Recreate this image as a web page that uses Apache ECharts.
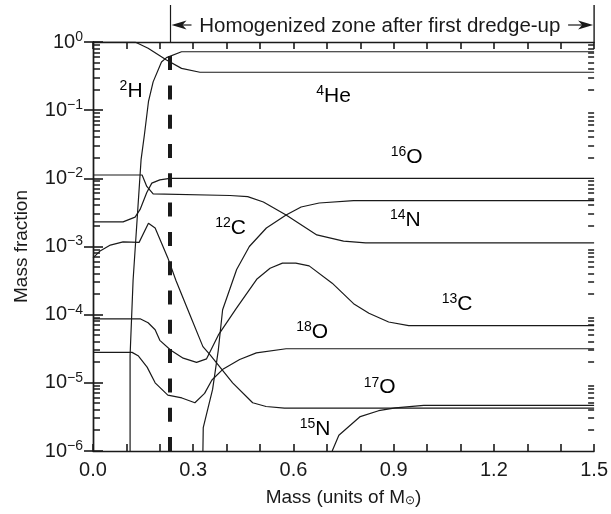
<!DOCTYPE html>
<html>
<head>
<meta charset="utf-8">
<script src="https://cdn.jsdelivr.net/npm/echarts@6/dist/echarts.min.js"></script>
<style>
  html, body { margin: 0; padding: 0; background: #fff; }
  #chart { width: 611px; height: 514px; }
</style>
</head>
<body>
<div id="chart"></div>
<script>
// Abundance profiles: [mass coordinate (M_sun), mass fraction]
const hydrogen = [[0.111, 1e-6], [0.111, 2.5e-5], [0.12, 3.2e-4], [0.144, 1.9e-2], [0.154, 4.4e-2],
  [0.166, 0.133], [0.18, 0.26], [0.205, 0.51], [0.22, 0.59], [0.265, 0.72], [1.5, 0.72]];
const helium4 = [[0, 1.0], [0.126, 1.0], [0.165, 0.81], [0.22, 0.545], [0.265, 0.41], [0.32, 0.36], [1.5, 0.36]];
const oxygen16 = [[0, 0.0023], [0.09, 0.0023], [0.126, 0.0027], [0.141, 0.0035], [0.161, 0.0062],
  [0.176, 0.0085], [0.2, 0.0095], [0.23, 0.01], [1.5, 0.01]];
const nitrogen14 = [[0, 0.0112], [0.147, 0.0112], [0.161, 0.0076], [0.18, 0.0059], [0.41, 0.0056],
  [0.463, 0.0054], [0.51, 0.0045], [0.578, 0.0029], [0.67, 0.00148], [0.75, 0.0012], [0.816, 0.00113], [1.5, 0.00113]];
const carbon12 = [[0.329, 1e-6], [0.33, 2.2e-6], [0.358, 8e-6], [0.375, 3e-5], [0.388, 1.18e-4],
  [0.43, 4.6e-4], [0.468, 1e-3], [0.519, 1.87e-3], [0.578, 2.9e-3], [0.623, 3.8e-3], [0.677, 4.35e-3],
  [0.78, 4.7e-3], [1.5, 4.7e-3]];
const oxygen17 = [[0, 6.8e-4], [0.02, 8.5e-4], [0.052, 1.05e-3], [0.09, 1.17e-3], [0.138, 1.15e-3],
  [0.166, 2.2e-3], [0.186, 1.87e-3], [0.206, 1.1e-3], [0.224, 6.8e-4], [0.248, 3.2e-4], [0.29, 1e-4],
  [0.329, 3.4e-5], [0.35, 2.6e-5], [0.418, 1e-5], [0.478, 5.1e-6], [0.518, 4.5e-6], [0.573, 4.26e-6], [1.5, 4.26e-6]];
const carbon13 = [[0, 8.7e-5], [0.141, 8.7e-5], [0.165, 7.6e-5], [0.186, 6e-5], [0.2, 4.2e-5],
  [0.233, 3e-5], [0.27, 2.3e-5], [0.31, 2e-5], [0.34, 2.25e-5], [0.375, 5e-5], [0.429, 1.24e-4],
  [0.49, 3.3e-4], [0.53, 4.8e-4], [0.567, 5.7e-4], [0.607, 5.7e-4], [0.647, 5.2e-4], [0.716, 2.9e-4],
  [0.78, 1.45e-4], [0.826, 1.05e-4], [0.885, 7.8e-5], [0.945, 6.9e-5], [1.5, 6.9e-5]];
const oxygen18 = [[0, 2.8e-5], [0.117, 2.8e-5], [0.135, 2.5e-5], [0.162, 1.7e-5], [0.186, 1e-5],
  [0.224, 6.6e-6], [0.266, 6e-6], [0.305, 5.1e-6], [0.334, 7e-6], [0.356, 1.1e-5], [0.39, 1.6e-5],
  [0.439, 2.2e-5], [0.489, 2.75e-5], [0.578, 3.16e-5], [1.5, 3.16e-5]];
const nitrogen15 = [[0.716, 1e-6], [0.736, 1.7e-6], [0.8, 3.2e-6], [0.855, 3.9e-6], [0.905, 4.3e-6],
  [0.99, 4.66e-6], [1.5, 4.66e-6]];

// Inner edge of the zone mixed by the first dredge-up
const dredgeUpMass = 0.232;

// Axis ticks
const massTickLabels = [0, 0.3, 0.6, 0.9, 1.2, 1.5];
const fractionMinor = [];
for (let d = -6; d < 0; d++) {
  for (let k = 2; k <= 9; k++) fractionMinor.push(Number((k * Math.pow(10, d)).toPrecision(3)));
}

// Curve labels: [mass number, element, mass, fraction]
const isotopeLabels = [
  ['2', 'H', 0.114, 0.19],
  ['4', 'He', 0.72, 0.16],
  ['16', 'O', 0.939, 0.0205],
  ['12', 'C', 0.412, 1.87e-3],
  ['14', 'N', 0.935, 2.4e-3],
  ['13', 'C', 1.09, 1.44e-4],
  ['18', 'O', 0.656, 5.6e-5],
  ['17', 'O', 0.858, 8.5e-6],
  ['15', 'N', 0.665, 2.1e-6]
];
const zoneTitle = 'Homogenized zone after first dredge-up';

const FONT = '"Liberation Sans", Arial, Helvetica, sans-serif';
const INK = '#1a1a1a';

const chart = echarts.init(document.getElementById('chart'), null, { renderer: 'canvas' });

function supRich(mainSize, supSize, lift) {
  return {
    b: { fontSize: mainSize, lineHeight: mainSize + 2, fontFamily: FONT, color: INK },
    s: { fontSize: supSize, lineHeight: supSize, padding: [0, 0, lift, 0], fontFamily: FONT, color: INK }
  };
}

function logAxis(position, tickLen, showLabels) {
  return {
    type: 'log', logBase: 10, position: position, min: 1e-6, max: 1,
    axisLine: { show: true, lineStyle: { color: INK, width: 1.4 } },
    axisTick: { show: true, inside: true, length: tickLen, lineStyle: { color: INK, width: 1.6 } },
    axisLabel: showLabels ? {
      margin: 10,
      formatter: function (v) {
        const e = Math.round(Math.log10(v));
        return '{b|10}{s|' + (e < 0 ? '\u2212' + (-e) : String(e)) + '}';
      },
      rich: supRich(20, 14, 10)
    } : { show: false },
    splitLine: { show: false }
  };
}

function curve(name, data) {
  return {
    name: name, type: 'line', data: data, xAxisIndex: 0, yAxisIndex: 0,
    symbol: 'none', clip: true, silent: true,
    lineStyle: { color: INK, width: 1.2 }
  };
}

const series = [
  curve('H', hydrogen),
  curve('He4', helium4),
  curve('O16', oxygen16),
  curve('N14', nitrogen14),
  curve('C12', carbon12),
  curve('O17', oxygen17),
  curve('C13', carbon13),
  curve('O18', oxygen18),
  curve('N15', nitrogen15)
];
series[0].markLine = {
  silent: true, symbol: 'none', label: { show: false }, animation: false,
  lineStyle: { color: INK, width: 4, type: [14, 15.3] },
  data: [{ xAxis: dredgeUpMass }]
};

chart.setOption({
  animation: false,
  backgroundColor: '#fff',
  textStyle: { fontFamily: FONT },
  grid: { left: 93, right: 14, top: 42, bottom: 63, containLabel: false },
  xAxis: [
    {
      type: 'value', position: 'bottom', min: 0, max: 1.5, interval: 0.1,
      name: 'Mass (units of M{sub|\u2299})', nameLocation: 'middle', nameGap: 37,
      nameTextStyle: {
        fontSize: 19, fontFamily: FONT, color: INK,
        rich: {
          sub: { fontSize: 12, fontFamily: FONT, color: INK, verticalAlign: 'bottom', padding: [6, 0, 0, 0] }
        }
      },
      axisLine: { onZero: false, lineStyle: { color: INK, width: 1.4 } },
      axisTick: { inside: true, length: 7, lineStyle: { color: INK, width: 1.6 } },
      axisLabel: { customValues: massTickLabels, margin: 9, fontSize: 20, color: INK, fontFamily: FONT,
        formatter: function (v) { return v.toFixed(1); } },
      splitLine: { show: false }
    },
    {
      type: 'value', position: 'top', min: 0, max: 1.5, interval: 0.1,
      axisLine: { onZero: false, lineStyle: { color: INK, width: 1.4 } },
      axisTick: { inside: true, length: 7, lineStyle: { color: INK, width: 1.6 } },
      axisLabel: { show: false },
      splitLine: { show: false }
    }
  ],
  yAxis: [
    Object.assign(logAxis('left', 10, true), {
      name: 'Mass fraction', nameLocation: 'middle', nameGap: 62,
      nameTextStyle: { fontSize: 19, color: INK, fontFamily: FONT }
    }),
    logAxis('right', 9, false)
  ],
  series: series
});

// Annotations placed from data coordinates
function px(mass, frac) {
  return chart.convertToPixel({ xAxisIndex: 0, yAxisIndex: 0 }, [mass, frac]);
}

const graphics = [];

// Minor (2..9) log ticks on both vertical frame edges
const frameLeft = px(0, 1)[0];
const frameRight = px(1.5, 1)[0];
fractionMinor.forEach(function (v) {
  const y = Math.round(px(0, v)[1]);
  graphics.push(
    { type: 'line', silent: true, z: 10, shape: { x1: frameLeft, y1: y, x2: frameLeft + 7, y2: y },
      style: { stroke: INK, lineWidth: 1.5 } },
    { type: 'line', silent: true, z: 10, shape: { x1: frameRight - 6, y1: y, x2: frameRight, y2: y },
      style: { stroke: INK, lineWidth: 1.5 } }
  );
});

isotopeLabels.forEach(function (l) {
  const p = px(l[2], l[3]);
  graphics.push({
    type: 'text', x: p[0], y: p[1], silent: true,
    style: {
      text: '{s|' + l[0] + '}{b|' + l[1] + '}',
      align: 'center', verticalAlign: 'middle',
      rich: supRich(21, 14, 10)
    }
  });
});

const left = px(dredgeUpMass, 1);
const right = px(1.5, 1);
const topY = 5;
const arrowY = 25;
graphics.push(
  { type: 'line', silent: true, shape: { x1: left[0], y1: topY, x2: left[0], y2: left[1] },
    style: { stroke: INK, lineWidth: 1.2 } },
  { type: 'line', silent: true, shape: { x1: right[0], y1: topY, x2: right[0], y2: right[1] },
    style: { stroke: INK, lineWidth: 1.4 } },
  { type: 'line', silent: true, shape: { x1: left[0] + 4, y1: arrowY, x2: left[0] + 21, y2: arrowY },
    style: { stroke: INK, lineWidth: 1.2 } },
  { type: 'polygon', silent: true,
    shape: { points: [[left[0] + 1, arrowY], [left[0] + 16, arrowY - 4.5], [left[0] + 12, arrowY], [left[0] + 16, arrowY + 4.5]] },
    style: { fill: INK } },
  { type: 'line', silent: true, shape: { x1: right[0] - 26, y1: arrowY, x2: right[0] - 4, y2: arrowY },
    style: { stroke: INK, lineWidth: 1.2 } },
  { type: 'polygon', silent: true,
    shape: { points: [[right[0] - 1, arrowY], [right[0] - 16, arrowY - 4.5], [right[0] - 12, arrowY], [right[0] - 16, arrowY + 4.5]] },
    style: { fill: INK } },
  { type: 'text', silent: true, x: (left[0] + 26 + right[0] - 31) / 2, y: arrowY + 1,
    style: { text: zoneTitle, align: 'center', verticalAlign: 'middle', fontSize: 20.5, fontFamily: FONT, fill: INK } }
);

chart.setOption({ graphic: graphics });
</script>
</body>
</html>
